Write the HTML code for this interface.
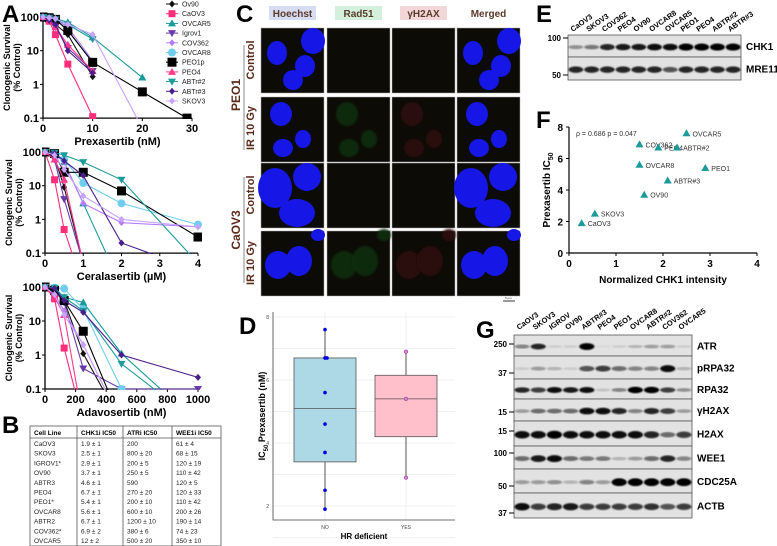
<!DOCTYPE html>
<html><head><meta charset="utf-8">
<style>
html,body{margin:0;padding:0;background:#fff;}
svg{display:block;font-family:"Liberation Sans",Arial,sans-serif;}
.b{font-weight:bold;}
</style></head>
<body>
<svg id="fig" width="777" height="546" viewBox="0 0 777 546" xmlns="http://www.w3.org/2000/svg">
<defs>
<filter id="blur1"><feGaussianBlur stdDeviation="1.2"/></filter>
<filter id="blur2"><feGaussianBlur stdDeviation="0.7"/></filter>
<clipPath id="clipA1"><rect x="40" y="5" width="160" height="114"/></clipPath>
<clipPath id="clipA2"><rect x="42" y="140" width="160" height="114"/></clipPath>
<clipPath id="clipA3"><rect x="42" y="275" width="160" height="115"/></clipPath>
</defs>
<text x="2" y="22" font-size="24" class="b">A</text>
<text x="2" y="433" font-size="24" class="b">B</text>
<text x="236" y="22" font-size="24" class="b">C</text>
<text x="239" y="334" font-size="24" class="b">D</text>
<text x="536" y="22" font-size="24" class="b">E</text>
<text x="536" y="128" font-size="24" class="b">F</text>
<text x="476" y="338" font-size="24" class="b">G</text>
<g id="root"></g>
</svg>
<script>
// ---------- DATA ----------
const seriesNames = ["Ov90","CaOV3","OVCAR5","Igrov1","COV362","OVCAR8","PEO1p","PEO4","ABTr#2","ABTr#3","SKOV3"];
const seriesColors = ["#111","#ff2d7a","#1a9a9a","#6a3aa8","#b67cff","#6fcdf0","#000","#ff3a8c","#1c9c9c","#4a1f8c","#c8a2ff"];
const seriesMarkers = ["diamond","square","tri","tridown","diamond","circle","bigsquare","tri","tridown","diamond","diamond"];

const prexDoses = [0,1.25,2.5,5,10,20,29];
const prexVals = [
 [100,85,60,30,1.7],
 [100,75,30,4,0.11],
 [100,95,90,70,25,1.6],
 [100,80,50,12,2.5],
 [100,95,85,50,5],
 [100,95,85,40,4.5],
 [100,95,85,40,4.5,0.6,0.1],
 [100,80,50,15,2.5],
 [100,95,85,60,22],
 [100,80,60,10,2.2],
 [100,95,90,60,30,0.05]
];
const ceraDoses = [0,0.25,0.5,1,2,4];
const ceraVals = [
 [100,70,9,0.05],
 [100,15,0.5,0.01],
 [100,90,50,3,0.01],
 [100,60,4,0.05],
 [100,85,50,3,0.8,0.6],
 [100,90,60,12,3,0.7],
 [100,90,25,25,7,0.3],
 [100,60,15,0.05],
 [100,95,80,50,15,0.05],
 [100,90,55,20,0.2,0.03],
 [100,80,30,5,1,0.6]
];
const adavDoses = [0,62.5,125,250,500,1000];
const adavVals = [
 [100,70,40,1.1,0.01],
 [100,45,1.6,0.01],
 [100,90,50,35,1.1,0.01],
 [100,80,35,0.4,0.1,0.1],
 [100,60,20,2,0.01],
 [100,95,90,22,0.1],
 [100,80,40,5,0.01],
 [100,50,15,0.01],
 [100,95,50,20,0.55,0.01],
 [100,90,40,18,1,0.22],
 [100,60,15,2,0.01]
];
const logTicks = [100,10,1,0.1];
const logTickLabels = ["100","10","1","0.1"];
const prexTicks = [0,10,20,30];
const ceraTicks = [0,1,2,3,4];
const adavTicks = [0,200,400,600,800,1000];

const tableHeader = ["Cell Line","CHK1i IC50","ATRi IC50","WEE1i IC50"];
const tableRows = [
 ["CaOV3","1.9 ± 1","200","61 ± 4"],
 ["SKOV3","2.5 ± 1","800 ± 20","68 ± 15"],
 ["IGROV1*","2.9 ± 1","200 ± 5","120 ± 19"],
 ["OV90","3.7 ± 1","250 ± 5","110 ± 42"],
 ["ABTR3","4.6 ± 1","590","120 ± 5"],
 ["PEO4","6.7 ± 1","270 ± 20","120 ± 33"],
 ["PEO1*","5.4 ± 1","200 ± 10","110 ± 42"],
 ["OVCAR8","5.6 ± 1","600 ± 10","200 ± 26"],
 ["ABTR2","6.7 ± 1","1200 ± 10","190 ± 14"],
 ["COV362*","6.9 ± 2","380 ± 6","74 ± 23"],
 ["OVCAR5","12 ± 2","500 ± 20","350 ± 10"]
];

const boxNoPoints = [7.6,6.7,6.7,5.6,4.6,3.7,2.5,1.9];
const boxYesPoints = [6.9,5.4,2.9];
const boxNoStats = [1.9,3.4,5.1,6.7,7.6];
const boxYesStats = [2.9,4.2,5.4,6.15,6.9];
const boxTicks = [2,4,6,8];

const fNames = ["CaOV3","SKOV3","OV90","ABTR#3","OVCAR8","PEO1","COV362","PEO4","ABTR#2","OVCAR5"];
const fX = [0.27,0.55,1.6,2.1,1.5,2.9,1.5,1.9,2.3,2.5];
const fY = [1.9,2.5,3.7,4.6,5.6,5.4,6.9,6.7,6.7,7.6];
const fXTicks = [0,1,2,3,4];
const fYTicks = [0,2,4,6,8];

const eLanes = ["CaOV3","SKOV3","COV362","PEO4","OV90","OVCAR8","OVCAR5","PEO1","PEO4","ABTR#2","ABTR#3"];
const eChk1 = [0.35,0.45,0.8,0.85,0.85,0.9,0.9,1,1,1,1];
const eMre11 = [0.8,0.8,0.8,0.8,0.8,0.8,0.6,0.8,0.8,0.8,0.8];

const gLanes = ["CaOV3","SKOV3","IGROV","OV90","ABTR#3","PEO4","PEO1","OVCAR8","ABTR#2","COV362","OVCAR5"];
const gRows = ["ATR","pRPA32","RPA32","γH2AX","H2AX","WEE1","CDC25A","ACTB"];
const gIntens = [
 [0.4,0.8,0.1,0.1,1,0.05,0.1,0.2,0.3,0.3,0.1],
 [0.1,0.3,0.2,0.1,0.6,0.7,0.5,0.4,0.4,0.9,0.2],
 [0.8,0.7,0.9,0.85,0.9,0.15,0.4,1,1,0.7,0.35],
 [0.3,0.5,0.5,0.5,0.9,0.9,0.8,0.4,0.8,0.7,0.3],
 [0.9,0.9,1,0.9,0.9,0.9,0.9,0.9,0.8,0.5,0.7],
 [0.5,0.85,0.9,0.5,0.45,0.45,0.2,0.3,0.5,0.8,0.4],
 [0.3,0.3,0.35,0.2,0.4,0.3,1,1,1,1,1],
 [0.9,0.7,0.8,0.85,0.7,0.7,0.7,0.7,0.75,0.6,0.7]
];

// ---------- HELPERS ----------
const NS="http://www.w3.org/2000/svg";
const root=document.getElementById('root');
function mk(tag,attrs,parent){const e=document.createElementNS(NS,tag);for(const k in attrs)e.setAttribute(k,attrs[k]);(parent||root).appendChild(e);return e;}
function txt(x,y,s,size,extra,parent){const t=mk('text',Object.assign({x:x,y:y,'font-size':size},extra||{}),parent);t.textContent=s;return t;}
function marker(g,type,x,y,c){
  let e;
  if(type==="square") e=mk('rect',{x:x-3.5,y:y-3.5,width:7,height:7,fill:c},g);
  else if(type==="bigsquare") e=mk('rect',{x:x-4.5,y:y-4.5,width:9,height:9,fill:c},g);
  else if(type==="circle") e=mk('circle',{cx:x,cy:y,r:4,fill:c},g);
  else if(type==="tri") e=mk('polygon',{points:`${x},${y-4} ${x-4},${y+3} ${x+4},${y+3}`,fill:c},g);
  else if(type==="tridown") e=mk('polygon',{points:`${x},${y+4} ${x-4},${y-3} ${x+4},${y-3}`,fill:c},g);
  else e=mk('polygon',{points:`${x},${y-3.5} ${x+3},${y} ${x},${y+3.5} ${x-3},${y}`,fill:c},g);
  return e;
}

// ---------- PANEL A ----------
function survivalPlot(id,doses,vals,xTicks,xMax,x0,x1,y100,dec,xtitle,clip){
  const g=mk('g',{});
  
  
  const xs=v=>x0+(v/xMax)*(x1-x0);
  const ys=v=>y100+(2-Math.log10(v))*dec;
  const yb=ys(0.1);
  const ax=mk('path',{d:`M${x0},${y100-4}V${yb}H${x1}`,stroke:'#000','stroke-width':1.3,fill:'none'},g);
  
  
  logTicks.forEach((t,i)=>{
    mk('line',{x1:x0-3,x2:x0,y1:ys(t),y2:ys(t),stroke:'#000'},g);
    const l=txt(x0-4,ys(t)+4,logTickLabels[i],11,{'text-anchor':'end','font-weight':'bold'},g);
    
    
  });
  xTicks.forEach(t=>{
    mk('line',{x1:xs(t),x2:xs(t),y1:yb,y2:yb+3,stroke:'#000'},g);
    const l=txt(xs(t),yb+14,String(t),11,{'text-anchor':'middle','font-weight':'bold'},g);
    
    
  });
  const xt=txt((x0+x1)/2,yb+27,xtitle,11,{'text-anchor':'middle','font-weight':'bold'},g);
  
  
  const yt=mk('text',{transform:`translate(${x0-32},${(y100+yb)/2}) rotate(-90)`,'font-size':9,'text-anchor':'middle','font-weight':'bold'},g);
  yt.innerHTML='<tspan x="0" dy="-1">Clonogenic Survival</tspan><tspan x="0" dy="10">(% Control)</tspan>';
  
  
  const cg=mk('g',{'clip-path':`url(#${clip})`},g);
  vals.forEach((arr,si)=>{
    const pts=arr.map((v,i)=>[xs(doses[i]),ys(v)]);
    const ln=mk('polyline',{points:pts.map(p=>p.join(',')).join(' '),fill:'none',stroke:seriesColors[si],'stroke-width':1.1},cg);
    
    
    pts.forEach((p,i)=>{ if(arr[i]>=0.1){
      const m=marker(cg,seriesMarkers[si],p[0],p[1],seriesColors[si]);
      
      
    }});
  });
}
survivalPlot('prexasertib',prexDoses,prexVals,prexTicks,30,43,192,17,33.7,'Prexasertib (nM)','clipA1');
survivalPlot('ceralasertib',ceraDoses,ceraVals,ceraTicks,4,45,198,152,33.7,'Ceralasertib (µM)','clipA2');
survivalPlot('adavosertib',adavDoses,adavVals,adavTicks,1000,45,198,287,34,'Adavosertib (nM)','clipA3');

seriesNames.forEach((n,i)=>{
  const y=4+i*9.7;
  const g=mk('g',{});
  
  
  mk('line',{x1:166,x2:178,y1:y,y2:y,stroke:seriesColors[i],'stroke-width':1},g);
  marker(g,seriesMarkers[i],172,y,seriesColors[i]);
  txt(182,y+2.5,n,7,{fill:'#222'},g);
});

// ---------- PANEL B TABLE ----------
(function(){
  const g=mk('g',{});
  
  
  const cx=[30,77,123,172,221];
  mk('rect',{x:30,y:426,width:191,height:120,fill:'none',stroke:'#555','stroke-width':0.8},g);
  mk('line',{x1:30,x2:221,y1:438,y2:438,stroke:'#555','stroke-width':0.8},g);
  cx.slice(1,4).forEach(x=>mk('line',{x1:x,x2:x,y1:426,y2:546,stroke:'#555','stroke-width':0.8},g));
  tableHeader.forEach((h,i)=>{const t=txt(cx[i]+4,435,h,6.5,{'font-weight':'bold'},g);
    
    });
  tableRows.forEach((r,ri)=>r.forEach((c,ci)=>{
    const t=txt(cx[ci]+4,446+ri*9.7,c,6.5,{fill:'#222'},g);
    
    
  }));
})();

// ---------- PANEL C IMAGES ----------
(function(){
  const colX=[261,327,392,457], rowY=[28,97,163,231], w=63, h=65;
  const heads=["Hoechst","Rad51","γH2AX","Merged"], hb=["#d6dcf2","#d3f0dc","#f3d6d8","#fff"];
  heads.forEach((s,i)=>{
    const r=mk('rect',{x:colX[i]+8,y:6,width:w-16,height:14,fill:hb[i]});
    
    
    const t=txt(colX[i]+w/2,17,s,10,{'text-anchor':'middle','font-weight':'bold',fill:'#5a3a2a'});
    
    
  });
  const nuclei=[
    [[16,25,10,12],[52,13,12,13],[44,38,10,11],[32,52,10,10]],
    [[20,17,11,12],[42,42,8,9],[22,51,10,9]],
    [[14,25,17,20],[46,14,14,14],[36,50,18,14]],
    [[17,34,13,14],[38,30,13,15],[57,4,7,6]]
  ];
  rowY.forEach((y,ri)=>colX.forEach((x,ci)=>{
    const g=mk('g',{});
    
    
    mk('rect',{x:x,y:y,width:w,height:h,fill:'#0d0b05',stroke:'#aaa','stroke-width':0.5},g);
    nuclei[ri].forEach(n=>{
      if(ci===0||ci===3) mk('ellipse',{cx:x+n[0],cy:y+n[1],rx:n[2],ry:n[3],fill:'#1616e6'},g);
      else if(ri===1||ri===3) mk('ellipse',{cx:x+n[0],cy:y+n[1],rx:n[2],ry:n[3],fill:ci===1?'#0e2a10':'#2a0e0c',filter:'url(#blur1)'},g);
    });
  }));
  const labs=[["Control",60],["IR 10 Gy",128],["Control",195],["IR 10 Gy",263]];
  labs.forEach(l=>{const t=txt(0,0,l[0],11,{transform:`translate(254,${l[1]}) rotate(-90)`,'text-anchor':'middle','font-weight':'bold',fill:'#5a2a1a'});
    
    });
  [["PEO1",95],["CaOV3",230]].forEach(l=>{
    const t=txt(0,0,l[0],12,{transform:`translate(240,${l[1]}) rotate(-90)`,'text-anchor':'middle','font-weight':'bold',fill:'#5a2a1a'});
    
    
  });
  mk('line',{x1:244,x2:244,y1:45,y2:150,stroke:'#888'});
  mk('line',{x1:244,x2:244,y1:177,y2:283,stroke:'#888'});
  mk('line',{x1:503,x2:515,y1:301,y2:301,stroke:'#333'});
  txt(505,299,"5 μm",3,{fill:'#333'});
})();

// ---------- PANEL D BOXPLOT ----------
(function(){
  const g=mk('g',{});
  
  
  const ys=v=>506-(v-2)*31.5;
  const x0=273,x1=455;
  [1,2,3,4,5,6,7,8].forEach(v=>mk('line',{x1:x0,x2:x1,y1:ys(v),y2:ys(v),stroke:'#ececec','stroke-width':0.7},g));
  [325,406].forEach(x=>mk('line',{x1:x,x2:x,y1:312,y2:520,stroke:'#ececec','stroke-width':0.7},g));
  mk('path',{d:`M${x0},312V520H${x1}`,stroke:'#444',fill:'none','stroke-width':0.8},g);
  boxTicks.forEach(t=>{const l=txt(x0-4,ys(t)+2,String(t),5,{'text-anchor':'end',fill:'#444'},g);
    
    });
  function box(cx,st,fill,pts,pc,name){
    const bg=mk('g',{},g);
    
    
    mk('line',{x1:cx,x2:cx,y1:ys(st[0]),y2:ys(st[4]),stroke:'#555','stroke-width':1},bg);
    mk('rect',{x:cx-31,y:ys(st[3]),width:62,height:ys(st[1])-ys(st[3]),fill:fill,stroke:'#555','stroke-width':0.8},bg);
    mk('line',{x1:cx-31,x2:cx+31,y1:ys(st[2]),y2:ys(st[2]),stroke:'#555','stroke-width':0.8},bg);
    pts.forEach((p,i)=>{const c=mk('circle',{cx:cx+(i===2&&name==='no'?2:0),cy:ys(p),r:1.8,fill:pc,stroke:name==='yes'?'#7a2a7a':'none','stroke-width':0.5},bg);
      
      });
  }
  box(325,boxNoStats,'#add8e6',boxNoPoints,'#0000e0','no');
  box(406,boxYesStats,'#ffc0cb',boxYesPoints,'#e080e0','yes');
  txt(325,529,"NO",5,{'text-anchor':'middle',fill:'#444'},g);
  txt(406,529,"YES",5,{'text-anchor':'middle',fill:'#444'},g);
  const xt=txt(364,539,"HR deficient",8,{'text-anchor':'middle','font-weight':'bold'},g);
  
  
  const yt=mk('text',{transform:'translate(265,416) rotate(-90)','font-size':9,'text-anchor':'middle','font-weight':'bold'},g);
  yt.innerHTML='IC<tspan font-size="6" dy="3">50</tspan><tspan dy="-3"> Prexasertib (nM)</tspan>';
  
  
})();

// ---------- BLOTS ----------
function blot(id,x0,x1,rows,rowsY,intens,laneNames,lanesY,mw){
  const g=mk('g',{});
  
  
  const n=laneNames.length, lw=(x1-x0)/n;
  rows.forEach((r,ri)=>{
    const y=rowsY[ri], h=rowsY[ri+1]-y;
    mk('rect',{x:x0,y:y,width:x1-x0,height:h,fill:'#e2e2e2',stroke:'#555','stroke-width':0.8},g);
    intens[ri].forEach((v,li)=>{
      const b=mk('ellipse',{cx:x0+lw*(li+0.5),cy:y+h*0.55,rx:lw*0.47,ry:Math.max(1,h*0.09*(0.6+v*1.2)),fill:'#000','fill-opacity':Math.min(1,v*1.05),filter:'url(#blur2)'},g);
      
      
    });
    const l=txt(x1+5,y+h/2+4,r,10,{'font-weight':'bold'},g);
    
    
  });
  laneNames.forEach((s,i)=>{
    const t=txt(0,0,s,7.5,{transform:`translate(${x0+lw*(i+0.3)},${lanesY}) rotate(-35)`,'font-weight':'bold'},g);
    
    
  });
  mw.forEach(m=>{
    mk('line',{x1:x0-5,x2:x0,y1:m[1],y2:m[1],stroke:'#000'},g);
    const t=txt(x0-7,m[1]+3,m[0],8,{'text-anchor':'end','font-weight':'bold'},g);
    
    
  });
}
blot('chk1-blot',568,741,["CHK1","MRE11"],[35,57,80],[eChk1,eMre11],eLanes,32,[["100",38],["50",75]]);
blot('g-blot',514,692,gRows,[335,356,379,399,421,446,469,493,518],gIntens,gLanes,330,
  [["250",344],["37",373],["15",412],["15",431],["100",453],["50",486],["37",513]]);

// ---------- PANEL F SCATTER ----------
(function(){
  const g=mk('g',{});
  
  
  const xs=v=>569+v*47, ys=v=>253-v*15.75;
  mk('path',{d:`M${xs(0)},${ys(8)}V${ys(0)}H${xs(4)}`,stroke:'#000',fill:'none','stroke-width':1.2},g);
  fXTicks.forEach(t=>{mk('line',{x1:xs(t),x2:xs(t),y1:253,y2:256,stroke:'#000'},g);
    const l=txt(xs(t),267,String(t),10,{'text-anchor':'middle','font-weight':'bold'},g);
    
    });
  fYTicks.forEach(t=>{mk('line',{x1:566,x2:569,y1:ys(t),y2:ys(t),stroke:'#000'},g);
    const l=txt(563,ys(t)+4,String(t),10,{'text-anchor':'end','font-weight':'bold'},g);
    
    });
  fX.forEach((x,i)=>{
    const px=xs(x),py=ys(fY[i]);
    const p=mk('polygon',{points:`${px},${py-4} ${px-4},${py+3} ${px+4},${py+3}`,fill:'#1a9a9a'},g);
    
    
    const t=txt(px+6,py+3,fNames[i],7,{fill:'#333'},g);
    
    
  });
  txt(576,136,"ρ = 0.686 p = 0.047",7,{fill:'#333'},g);
  const xt=txt(663,283,"Normalized CHK1 intensity",10,{'text-anchor':'middle','font-weight':'bold'},g);
  
  
  const yt=mk('text',{transform:'translate(550,190) rotate(-90)','font-size':10,'text-anchor':'middle','font-weight':'bold'},g);
  yt.innerHTML='Prexasertib IC<tspan font-size="7" dy="3">50</tspan>';
  
  
})();
</script>
</body></html>
